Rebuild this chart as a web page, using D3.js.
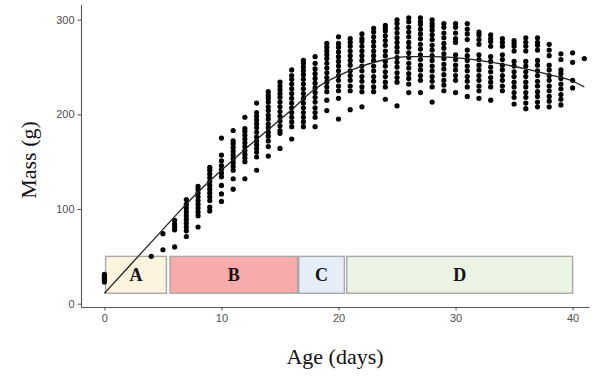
<!DOCTYPE html>
<html>
<head>
<meta charset="utf-8">
<script src="https://cdn.jsdelivr.net/npm/d3@7"></script>
<style>
  body { margin: 0; background: #fff; }
  .tick text { font-family: "Liberation Sans", Arial, sans-serif; }
</style>
</head>
<body>
<div id="graph"></div>
<script>
// age (days) of each column of observations
var days = [0, 4, 5, 6, 7, 8, 9, 10, 11, 12, 13, 14, 15, 16, 17, 18, 19, 20,
  21, 22, 23, 24, 25, 26, 27, 28, 29, 30, 31, 32, 33, 34, 35, 36, 37, 38, 39, 40, 41];

// mass (g) values measured at each age, same order as days
var masses = [
  [23, 25, 27, 29, 31],
  [50],
  [57, 74],
  [60, 78, 81, 84, 88],
  [71, 77, 81, 85, 89, 93, 97, 101, 105, 110],
  [81, 93, 97, 101, 105, 109, 113, 117, 121, 124],
  [98, 102, 109, 113, 117, 121, 125, 129, 133, 137, 141, 144],
  [108, 116, 125, 134, 138, 142, 146, 151, 157, 175],
  [121, 132, 141, 145, 149, 153, 157, 161, 165, 169, 172, 183],
  [132, 150, 154, 158, 162, 166, 170, 174, 178, 182, 185, 197],
  [141, 155, 160, 164, 168, 172, 176, 181, 186, 190, 194, 198, 202, 212],
  [156, 166, 172, 177, 181, 186, 190, 195, 199, 204, 208, 213, 217, 220, 224],
  [164, 180, 183, 188, 193, 198, 203, 208, 213, 218, 222, 226, 230, 234],
  [174, 187, 192, 197, 202, 207, 212, 217, 222, 227, 232, 237, 241, 247],
  [187, 192, 197, 202, 207, 212, 217, 222, 227, 232, 237, 242, 246, 250, 254, 257],
  [187, 197, 202, 207, 213, 218, 223, 228, 233, 238, 243, 248, 254, 261],
  [204, 215, 224, 229, 234, 239, 244, 249, 254, 259, 263, 267, 271, 275],
  [195, 217, 225, 230, 236, 241, 246, 251, 256, 261, 266, 271, 275, 282],
  [205, 225, 230, 236, 241, 246, 252, 257, 262, 267, 272, 276, 280],
  [208, 224, 229, 235, 240, 246, 251, 257, 262, 267, 272, 277, 280, 285],
  [224, 229, 235, 240, 246, 251, 257, 262, 267, 272, 277, 282, 287, 291],
  [216, 229, 234, 240, 245, 251, 256, 262, 267, 273, 278, 283, 288, 291, 294],
  [209, 234, 239, 244, 250, 255, 260, 266, 271, 276, 281, 286, 291, 296, 300],
  [223, 232, 238, 243, 249, 254, 260, 265, 271, 276, 282, 287, 292, 298, 302],
  [223, 236, 241, 247, 252, 258, 263, 269, 274, 280, 285, 290, 295, 298, 302],
  [213, 229, 235, 240, 246, 251, 257, 262, 268, 273, 279, 284, 289, 293, 296, 300],
  [225, 231, 236, 242, 248, 253, 259, 264, 270, 275, 281, 286, 292, 296],
  [223, 236, 241, 247, 252, 258, 263, 276, 280, 286, 292, 296],
  [219, 229, 235, 240, 246, 251, 257, 262, 268, 279, 285, 290, 296],
  [217, 225, 230, 236, 241, 247, 252, 258, 263, 274, 279, 284, 287],
  [215, 229, 234, 239, 245, 250, 256, 261, 272, 277, 280, 284],
  [225, 230, 236, 241, 247, 252, 258, 263, 272, 276, 280],
  [211, 218, 223, 229, 234, 240, 245, 251, 256, 267, 272, 275, 278],
  [206, 212, 218, 223, 229, 234, 240, 245, 251, 256, 267, 272, 276, 281],
  [208, 213, 219, 224, 230, 235, 241, 246, 252, 257, 268, 273, 276, 281],
  [208, 214, 219, 225, 230, 236, 241, 247, 252, 262, 268, 274],
  [210, 216, 221, 227, 232, 238, 243, 247, 258, 264],
  [228, 236, 255, 265],
  [259]
];

// fitted growth curve
var fitAge = [0, 2, 4, 6, 8, 10, 12, 14, 16, 18, 20, 22, 24, 26, 28, 30, 32, 34, 36, 38, 40, 41];
var fitMass = [11, 38, 65, 92, 118, 141, 163, 184, 205, 227, 241, 251, 258, 261, 261, 260, 257, 253, 248, 242, 235, 229];

// developmental stages
var stageLabels = ["A", "B", "C", "D"];
var stageStart = [0.1, 5.6, 16.6, 20.7];
var stageEnd = [5.3, 16.5, 20.5, 40.0];
var stageLow = 11;
var stageHigh = 50;

var xTicks = [0, 10, 20, 30, 40];
var yTicks = [0, 100, 200, 300];

var stageFill = ["#fdf3de", "#f9aaaa", "#e4edf8", "#eaf3e4"];

var w = 598, h = 379;

var xScale = d3.scaleLinear().domain([-2, 41.4]).range([81, 589]);
var yScale = d3.scaleLinear().domain([-3.5, 316]).range([307, 4.6]);

var svg = d3.select("#graph")
    .append("svg")
    .attr("width", w)
    .attr("height", h)
    .style("background", "#fff");

// stage boxes
var stages = stageLabels.map(function(s, i) {
  return { label: s, x0: stageStart[i], x1: stageEnd[i], fill: stageFill[i] };
});

svg.selectAll(".stage")
  .data(stages)
  .enter().append("rect")
  .attr("class", "stage")
  .attr("x", function(d) { return xScale(d.x0); })
  .attr("y", yScale(stageHigh))
  .attr("width", function(d) { return xScale(d.x1) - xScale(d.x0); })
  .attr("height", yScale(stageLow) - yScale(stageHigh))
  .attr("fill", function(d) { return d.fill; })
  .attr("stroke", "#a9a9a9")
  .attr("stroke-width", 1.4);

// points
var points = [];
days.forEach(function(d, i) {
  masses[i].forEach(function(m) { points.push({ age: d, mass: m }); });
});

svg.selectAll(".dot")
  .data(points)
  .enter().append("circle")
  .attr("class", "dot")
  .attr("cx", function(d) { return xScale(d.age); })
  .attr("cy", function(d) { return yScale(d.mass); })
  .attr("r", 2.6)
  .attr("fill", "#000");

// fitted line
var fit = fitAge.map(function(a, i) { return { age: a, mass: fitMass[i] }; });
var line = d3.line()
  .x(function(d) { return xScale(d.age); })
  .y(function(d) { return yScale(d.mass); })
  .curve(d3.curveMonotoneX);

svg.append("path")
  .datum(fit)
  .attr("d", line)
  .attr("fill", "none")
  .attr("stroke", "#222")
  .attr("stroke-width", 1.3);

// stage labels
svg.selectAll(".stageLabel")
  .data(stages)
  .enter().append("text")
  .attr("class", "stageLabel")
  .attr("x", function(d) { return (xScale(d.x0) + xScale(d.x1)) / 2; })
  .attr("y", yScale((stageLow + stageHigh) / 2) + 6)
  .attr("text-anchor", "middle")
  .attr("font-family", "'Liberation Serif', 'Times New Roman', serif")
  .attr("font-weight", "bold")
  .attr("font-size", "18px")
  .attr("fill", "#111")
  .text(function(d) { return d.label; });

// axes
var xAxis = d3.axisBottom(xScale).tickValues(xTicks).tickSize(3.5).tickSizeOuter(0).tickPadding(4);
var yAxis = d3.axisLeft(yScale).tickValues(yTicks).tickSize(3.5).tickSizeOuter(0).tickPadding(3);

var gx = svg.append("g")
  .attr("transform", "translate(0," + yScale.range()[0] + ")")
  .call(xAxis);
var gy = svg.append("g")
  .attr("transform", "translate(" + xScale.range()[0] + ",0)")
  .call(yAxis);

[gx, gy].forEach(function(g) {
  g.select(".domain").attr("stroke", "#555").attr("stroke-width", 1.1);
  g.selectAll(".tick line").attr("stroke", "#555");
  g.selectAll(".tick text").attr("fill", "#4d4d4d").attr("font-size", "11px");
});

// axis titles
svg.append("text")
  .attr("x", (xScale.range()[0] + xScale.range()[1]) / 2)
  .attr("y", 364)
  .attr("text-anchor", "middle")
  .attr("font-family", "'Liberation Serif', 'Times New Roman', serif")
  .attr("font-size", "22px")
  .attr("fill", "#111")
  .text("Age (days)");

svg.append("text")
  .attr("transform", "translate(36,160) rotate(-90)")
  .attr("text-anchor", "middle")
  .attr("font-family", "'Liberation Serif', 'Times New Roman', serif")
  .attr("font-size", "22px")
  .attr("fill", "#111")
  .text("Mass (g)");
</script>
</body>
</html>
